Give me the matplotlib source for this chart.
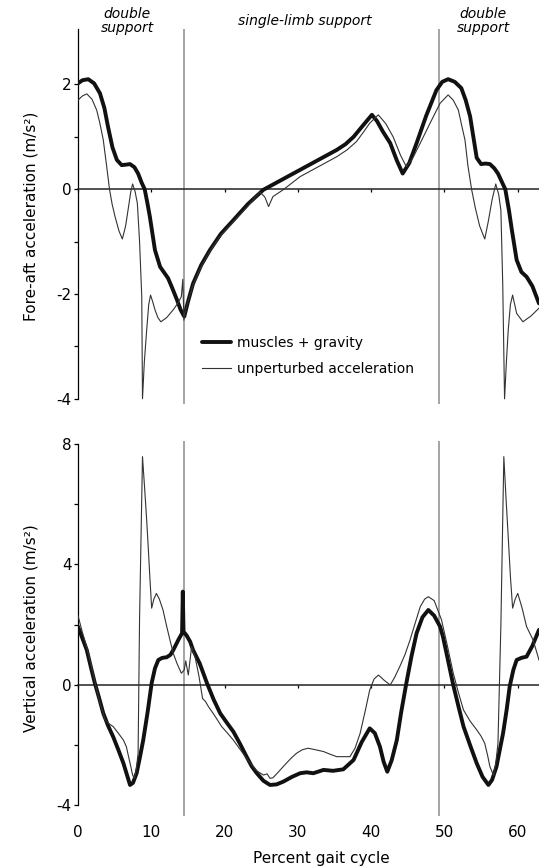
import numpy as np
import matplotlib
matplotlib.use("Agg")
import matplotlib.pyplot as plt

plt.rcParams['font.family'] = ['DejaVu Sans']
plt.rcParams['axes.unicode_minus'] = False

# ---- data (percent gait cycle, m/s^2) ----
fa_x_thick = [0, 0.6, 1.4, 2.2, 3.0, 3.6, 4.1, 4.7, 5.3, 5.96, 6.6, 7.1, 7.7, 8.2, 8.7, 9.1,
              9.45, 9.8, 10.5, 11.2, 11.8, 12.3, 12.9, 13.5, 14.0, 14.5, 15.0, 15.7, 16.8,
              18.0, 19.5, 21.2, 23.2, 25.3, 27.8, 30.3, 32.8, 35.3, 36.5, 37.6, 38.9, 40.1,
              40.8, 41.6, 42.6, 43.5, 44.3, 45.2, 46.2, 47.5, 48.9, 49.7, 50.5, 51.4, 52.3,
              52.9, 53.5, 54.0, 54.4, 55.0, 55.6, 56.2, 56.8, 57.3, 57.8, 58.3, 58.8, 59.2,
              59.85, 60.5, 61.2, 62.0, 62.9]
fa_thick = [2.02, 2.08, 2.1, 2.02, 1.83, 1.55, 1.19, 0.8, 0.56, 0.46, 0.47, 0.48, 0.42, 0.3,
            0.12, 0.0, -0.25, -0.52, -1.16, -1.48, -1.6, -1.7, -1.9, -2.11, -2.3, -2.43,
            -2.15, -1.8, -1.45, -1.16, -0.85, -0.59, -0.28, -0.01, 0.18, 0.37, 0.56, 0.75,
            0.86, 1.0, 1.22, 1.42, 1.3, 1.1, 0.88, 0.55, 0.3, 0.5, 0.88, 1.4, 1.89, 2.05,
            2.1, 2.05, 1.93, 1.7, 1.39, 0.95, 0.6, 0.48, 0.49, 0.48, 0.4, 0.3, 0.15, 0.0,
            -0.4, -0.78, -1.35, -1.58, -1.67, -1.85, -2.18]

fa_x_thin = [0, 0.6, 1.2, 1.9, 2.55, 3.0, 3.45, 3.9, 4.3, 4.65, 5.05, 5.6, 6.05, 6.5, 6.9,
             7.2, 7.45, 7.8, 8.1, 8.4, 8.7, 8.8, 9.05, 9.37, 9.65, 9.9, 10.2, 10.5, 10.9,
             11.3, 12.1, 13.0, 13.6, 14.1, 14.3, 14.45, 14.6, 15.0, 15.7, 16.8, 18.0, 19.5,
             21.2, 23.2, 24.8, 25.5, 26.0, 26.6, 28.0, 30.3, 32.8, 35.3, 36.7, 38.0, 39.0,
             39.8, 40.97, 42.0, 43.0, 44.0, 44.8, 45.7, 46.7, 48.0, 49.4, 50.5, 51.2, 51.9,
             52.3, 52.8, 53.2, 53.7, 54.2, 54.8, 55.5, 56.0, 56.5, 57.0, 57.4, 57.7, 57.95,
             58.2, 58.45, 58.7, 59.0, 59.3, 59.85, 60.7, 61.8, 62.9]
fa_thin = [1.70, 1.78, 1.82, 1.72, 1.51, 1.25, 0.94, 0.45, 0.0, -0.28, -0.52, -0.8, -0.95,
           -0.7, -0.33, -0.05, 0.1, -0.05, -0.27, -1.0, -2.05, -4.0, -3.3, -2.69, -2.2,
           -2.02, -2.15, -2.3, -2.45, -2.53, -2.45, -2.3, -2.18, -2.05, -1.72, -2.5, -2.35,
           -2.15, -1.82, -1.48, -1.18, -0.88, -0.62, -0.32, -0.05, -0.15, -0.33, -0.14,
           -0.01, 0.24, 0.43, 0.62, 0.75, 0.91, 1.1, 1.26, 1.42, 1.25, 1.0, 0.65, 0.43,
           0.6, 0.88, 1.25, 1.64, 1.8, 1.7, 1.51, 1.25, 0.94, 0.45, 0.0, -0.35, -0.7,
           -0.95, -0.6, -0.2, 0.1, -0.1, -0.4, -1.8, -4.0, -3.3, -2.69, -2.2, -2.02, -2.37,
           -2.53, -2.42, -2.27]

v_x_thick = [0, 0.6, 1.2, 1.75, 2.3, 2.9, 3.45, 4.1, 4.8, 5.5, 6.2, 6.7, 7.1, 7.5, 8.0,
             8.45, 8.9, 9.5, 10.05, 10.5, 10.96, 11.5, 12.1, 12.6, 13.0, 13.7, 14.2, 14.3,
             14.4, 14.8, 15.3, 15.7, 16.6, 17.6, 18.5, 19.4, 20.3, 21.2, 22.1, 23.0, 23.7,
             24.4, 25.3, 26.2, 27.1, 28.0, 29.2, 30.3, 31.2, 32.1, 33.5, 34.8, 36.2, 37.6,
             38.7, 39.8, 40.5, 41.2, 41.7, 42.2, 42.8, 43.5, 44.1, 44.8, 45.5, 46.2, 47.0,
             47.8, 48.6, 49.4, 49.8, 50.5, 51.2, 51.9, 52.6, 53.5, 54.4, 55.2, 56.0, 56.5,
             57.1, 58.0, 58.5, 58.9, 59.4, 59.85, 60.5, 61.2, 62.0, 62.9]
v_thick = [1.94, 1.55, 1.16, 0.6, 0.06, -0.45, -0.94, -1.35, -1.72, -2.15, -2.6, -3.0,
           -3.32, -3.25, -2.93, -2.4, -1.83, -0.9, 0.06, 0.55, 0.83, 0.9, 0.92, 1.0, 1.16,
           1.5, 1.72, 3.1, 1.77, 1.65, 1.44, 1.16, 0.72, 0.06, -0.48, -0.94, -1.25, -1.55,
           -1.95, -2.38, -2.7, -2.93, -3.18, -3.32, -3.3, -3.21, -3.05, -2.93, -2.9, -2.93,
           -2.82, -2.85, -2.8, -2.49, -1.9, -1.44, -1.6, -2.05, -2.55, -2.88, -2.5, -1.83,
           -0.9, 0.06, 0.95, 1.72, 2.25, 2.49, 2.3, 1.94, 1.6, 0.8, 0.0, -0.7, -1.38, -2.0,
           -2.6, -3.05, -3.32, -3.15, -2.71, -1.6, -0.8, -0.05, 0.5, 0.83, 0.9, 0.94, 1.3,
           1.83]

v_x_thin = [0, 0.6, 1.2, 1.8, 2.3, 2.9, 3.7, 4.3, 4.8, 5.5, 6.2, 6.6, 6.9, 7.2, 7.45, 7.7,
            7.95, 8.2, 8.4, 8.8, 9.1, 9.37, 9.6, 9.8, 10.05, 10.35, 10.7, 11.1, 11.6, 12.05,
            12.55, 13.0, 13.5, 14.1, 14.5, 14.7, 15.05, 15.5, 16.0, 16.5, 17.0, 17.4, 17.8,
            18.6, 19.6, 20.4, 21.2, 22.3, 23.5, 24.4, 25.3, 25.8, 26.2, 26.6, 27.3, 28.0,
            29.0, 29.8, 30.6, 31.4, 32.4, 33.5, 34.4, 35.3, 36.2, 37.1, 37.8, 38.5, 39.2,
            39.8, 40.4, 41.0, 41.8, 42.6, 43.2, 43.9, 44.6, 45.3, 46.0, 46.7, 47.3, 47.8,
            48.6, 49.6, 50.4, 51.2, 51.9, 52.6, 53.5, 54.4, 55.0, 55.5, 55.9, 56.2, 56.7,
            57.0, 57.3, 57.7, 58.1, 58.4, 58.7, 59.0, 59.3, 59.65, 60.0, 60.6, 61.2, 62.1,
            62.9]
v_thin = [2.3, 1.75, 1.25, 0.65, 0.1, -0.5, -1.16, -1.3, -1.38, -1.6, -1.83, -2.05, -2.38,
          -2.7, -2.99, -3.1, -2.8, -2.27, 2.2, 7.58, 6.5, 5.48, 4.5, 3.6, 2.55, 2.85, 3.04,
          2.85, 2.49, 2.0, 1.49, 1.05, 0.72, 0.39, 0.5, 0.8, 0.33, 1.27, 0.9, 0.3, -0.45,
          -0.55, -0.72, -1.0, -1.38, -1.6, -1.83, -2.2, -2.6, -2.85, -2.99, -2.95, -3.1,
          -3.08, -2.9, -2.71, -2.45, -2.27, -2.15, -2.1, -2.15, -2.21, -2.3, -2.38, -2.38,
          -2.38, -2.1, -1.6, -0.85, -0.17, 0.2, 0.33, 0.15, 0.0, 0.25, 0.61, 1.0, 1.49,
          2.05, 2.6, 2.85, 2.93, 2.8, 2.16, 1.3, 0.39, -0.25, -0.83, -1.2, -1.49, -1.7,
          -1.94, -2.35, -2.71, -3.0, -2.6, -1.94, 2.0, 7.58, 6.2, 4.92, 3.6, 2.55, 2.85,
          3.04, 2.55, 1.94, 1.49, 0.83]

phase_lines = [14.45, 49.2]          # foot contact / toe-off events
x_ticks = [0, 10, 20, 30, 40, 50, 60]
phase_labels = [(6.7, 'double\nsupport'), (31.0, 'single-limb support'), (55.3, 'double\nsupport')]

THICK = dict(color='#111111', lw=2.8, solid_joinstyle='round', solid_capstyle='round', zorder=3)
THIN = dict(color='#333333', lw=0.8, zorder=3)
VCOL = '#8c8c8c'

fig = plt.figure(figsize=(5.39, 8.68), dpi=100)
ax1 = fig.add_axes([0.1447, 0.5345, 0.8553, 0.4316])
ax2 = fig.add_axes([0.1447, 0.0599, 0.8553, 0.4324])


def style_panel(ax, ylim, ybounds, major, minor, ylabel):
    ax.set_xlim(0, 62.9)
    ax.set_ylim(*ylim)
    for s in ('top', 'right'):
        ax.spines[s].set_visible(False)
    ax.spines['left'].set_bounds(*ybounds)
    ax.spines['left'].set_linewidth(0.9)
    ax.spines['bottom'].set_position(('data', 0))
    ax.spines['bottom'].set_linewidth(1.1)
    ax.spines['bottom'].set_color('#222222')
    ax.set_xticks(x_ticks)
    ax.tick_params(axis='x', direction='out', length=2.2, width=0.9, labelbottom=False)
    ax.set_yticks(major)
    ax.set_yticks(minor, minor=True)
    ax.tick_params(axis='y', which='both', direction='out', length=3, width=0.9, pad=1.5,
                   labelsize=11)
    for xv in phase_lines:
        ax.axvline(xv, color=VCOL, lw=1.1, zorder=1)
    ax.set_ylabel(ylabel, fontsize=11)
    ax.yaxis.label.set_va('center')
    ax.yaxis.set_label_coords(-0.102, 0.5)


style_panel(ax1, (-4.1, 3.05), (-4, 3.05), [-4, -2, 0, 2], [-3, -1, 1],
            'Fore-aft acceleration (m/s²)')
style_panel(ax2, (-4.35, 8.11), (-4, 8), [-4, 0, 4, 8], [-2, 2, 6],
            'Vertical acceleration (m/s²)')

ax1.plot(fa_x_thick, fa_thick, label='muscles + gravity', **THICK)
ax1.plot(fa_x_thin, fa_thin, label='unperturbed acceleration', **THIN)
ax2.plot(v_x_thick, v_thick, **THICK)
ax2.plot(v_x_thin, v_thin, **THIN)

leg = ax1.legend(loc='center left', bbox_to_anchor=(0.268, 0.128), frameon=False,
                 fontsize=10, handlelength=2.15, handletextpad=0.4, labelspacing=0.85,
                 borderpad=0, borderaxespad=0)

for xv, txt in phase_labels:
    ax1.text(xv, 1.0227, txt, transform=ax1.get_xaxis_transform(), ha='center',
             va='center', fontsize=10, style='italic', linespacing=1.0, clip_on=False)

# tick labels for the shared percent axis sit under the lower panel
sec = ax2.secondary_xaxis('bottom')
sec.spines['bottom'].set_visible(False)
sec.set_xticks(x_ticks)
sec.tick_params(length=0, pad=6.5, labelsize=11)

ax2.set_xlabel('Percent gait cycle', fontsize=11)
ax2.xaxis.label.set_va('center')
ax2.xaxis.set_label_coords(0.529, -0.112)

fig.savefig('out.png', dpi=100)
